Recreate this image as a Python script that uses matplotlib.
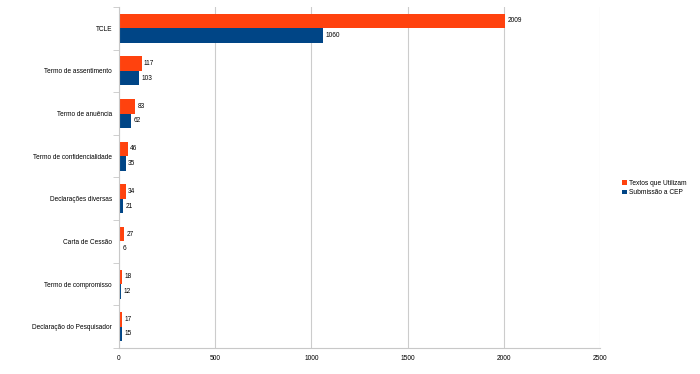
import numpy as np
import matplotlib.pyplot as plt

plt.rcParams['font.family'] = ['Liberation Sans', 'DejaVu Sans']

categorias = ['TCLE', 'Termo de assentimento', 'Termo de anuência',
              'Termo de confidencialidade', 'Declarações diversas',
              'Carta de Cessão', 'Termo de compromisso',
              'Declaração do Pesquisador']
textos = [2009, 117, 83, 46, 34, 27, 18, 17]
submissao = [1060, 103, 62, 35, 21, 6, 12, 15]

cor_laranja = '#ff420e'
cor_azul = '#004586'

fig = plt.figure(figsize=(7, 3.74), dpi=100)
ax = fig.add_axes([0.17, 0.0695, 0.687, 0.912])

y = np.arange(len(categorias))
h = 0.34
b1 = ax.barh(y - h / 2, textos, height=h, color=cor_laranja, label='Textos que Utilizam')
b2 = ax.barh(y + h / 2, submissao, height=h, color=cor_azul, label='Submissão a CEP')

for barras in (b1, b2):
    for b in barras:
        ax.text(b.get_width() + 12, b.get_y() + b.get_height() / 2,
                str(int(b.get_width())), va='center', ha='left', fontsize=4.7)

ax.set_xlim(0, 2500)
ax.set_ylim(len(categorias) - 0.5, -0.5)
ax.set_xticks([0, 500, 1000, 1500, 2000, 2500])
ax.set_yticks(y)
ax.set_yticklabels(categorias)
ax.set_yticks(np.arange(-0.5, len(categorias)), minor=True)
ax.tick_params(axis='y', which='major', length=0, labelsize=4.7, pad=5)
ax.tick_params(axis='y', which='minor', length=4, color='#c8c8c8')
ax.tick_params(axis='x', length=0, labelsize=4.8, pad=5)

ax.grid(axis='x', color='#cccccc', linewidth=0.8)
ax.set_axisbelow(True)
for s in ['top', 'right']:
    ax.spines[s].set_visible(False)
ax.spines['left'].set_color('#c8c8c8')
ax.spines['bottom'].set_color('#c8c8c8')

fig.legend(loc='center left', bbox_to_anchor=(0.88, 0.497), frameon=False,
           fontsize=4.8, handlelength=0.7, handleheight=0.7, handletextpad=0.3,
           labelspacing=0.4)

fig.savefig('out.png', dpi=100)
